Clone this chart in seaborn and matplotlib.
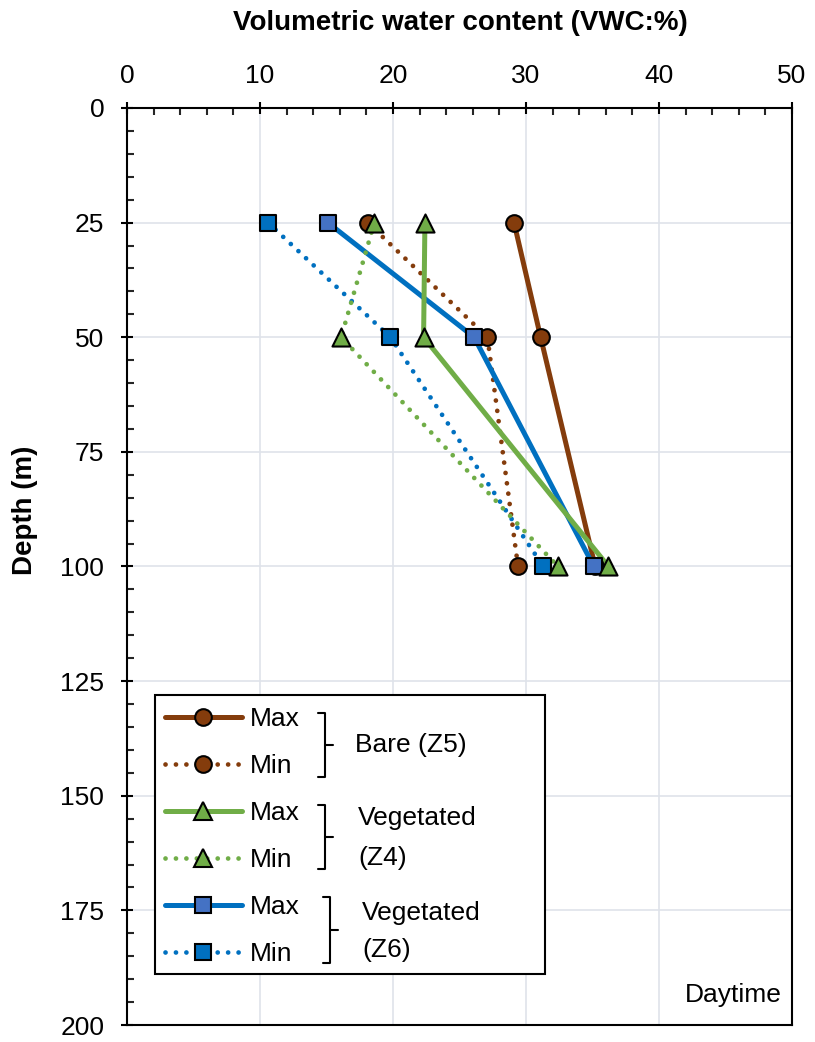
import numpy as np
import pandas as pd
import matplotlib
matplotlib.use('Agg')
import matplotlib.pyplot as plt
import seaborn as sns
from matplotlib.lines import Line2D
from matplotlib.patches import Rectangle
from matplotlib.ticker import MultipleLocator

sns.set_theme(style='white')
plt.rcParams['font.family'] = ['Liberation Sans', 'DejaVu Sans']
plt.rcParams['text.color'] = 'black'
plt.rcParams['axes.labelcolor'] = 'black'

# depth (m) and VWC (%)
depth = [25, 50, 100]
bare_max = [29.1, 31.1, 35.2]
bare_min = [18.1, 27.1, 29.4]
veg4_max = [22.4, 22.3, 36.2]
veg4_min = [18.6, 16.1, 32.4]
veg6_max = [15.1, 26.1, 35.1]
veg6_min = [10.6, 19.8, 31.3]

brown = '#843c0c'
green = '#70ad47'
blue = '#0070c0'
blue_sq = '#4472c4'
dotted = (0, (0.01, 2.2))

fig, ax = plt.subplots(figsize=(8.15, 10.42), dpi=100)
fig.subplots_adjust(left=0.1558, right=0.9718, bottom=0.0163, top=0.8964)


def to_ax(px, py):
    # pixel position in the figure -> axes fraction
    return (px - 127) / 665, (1025 - py) / 917


series = [
    (bare_max, brown, '-', 'o', brown, 12),
    (bare_min, brown, dotted, 'o', brown, 12),
    (veg6_max, blue, '-', 's', blue_sq, 11.5),
    (veg6_min, blue, dotted, 's', blue, 11.5),
    (veg4_max, green, '-', '^', green, 13),
    (veg4_min, green, dotted, '^', green, 13),
]

# lines first, then markers on top
for vals, col, ls, mk, fc, ms in series:
    lw = 3.6 if ls == '-' else 3.4
    sns.lineplot(x=vals, y=depth, sort=False, estimator=None, color=col,
                 linewidth=lw, linestyle=ls, dash_capstyle='round', ax=ax, zorder=2)
for vals, col, ls, mk, fc, ms in series:
    sns.scatterplot(x=vals, y=depth, marker=mk, s=ms ** 2, color=fc,
                    edgecolor='black', linewidth=1.5, ax=ax, zorder=3)

ax.set_xlim(0, 50)
ax.set_ylim(200, 0)
ax.xaxis.tick_top()
ax.xaxis.set_major_locator(MultipleLocator(10))
ax.xaxis.set_minor_locator(MultipleLocator(2))
ax.yaxis.set_major_locator(MultipleLocator(25))
ax.yaxis.set_minor_locator(MultipleLocator(5))
ax.tick_params(which='major', direction='inout', length=8.6, width=1.5,
               labelsize=19, colors='black')
ax.tick_params(which='minor', direction='in', length=5, width=1.5)
ax.tick_params(top=True, bottom=False, left=True, right=False,
               labeltop=True, labelbottom=False, which='both')
ax.tick_params(axis='x', pad=10)
ax.tick_params(axis='y', pad=12)
ax.grid(True, which='major', color='#dfe3ea', lw=1.2)
ax.set_axisbelow(True)
for sp in ax.spines.values():
    sp.set_color('black')
    sp.set_linewidth(1.5)

ax.xaxis.set_label_position('top')
ax.set_xlabel('Volumetric water content (VWC:%)', fontsize=20, fontweight='bold')
ax.xaxis.label.set_va('center')
ax.xaxis.set_label_coords(*to_ax(460, 23))
ax.set_ylabel('Depth (m)', fontsize=20, fontweight='bold')
ax.yaxis.label.set_va('center')
ax.yaxis.set_label_coords(*to_ax(25, 510))

# legend box
x0, y0 = to_ax(155, 974)
x1, y1 = to_ax(545, 695)
ax.add_patch(Rectangle((x0, y0), x1 - x0, y1 - y0, transform=ax.transAxes,
                       facecolor='white', edgecolor='black', lw=1.5, zorder=4))

handles = []
labels = []
legend_order = [series[0], series[1], series[4], series[5], series[2], series[3]]
for vals, col, ls, mk, fc, ms in legend_order:
    lw = 3.6 if ls == '-' else 3.4
    handles.append(Line2D([], [], color=col, lw=lw, linestyle=ls, dash_capstyle='round',
                          marker=mk, ms=ms, mfc=fc, mec='black', mew=1.5))
    labels.append('Max' if ls == '-' else 'Min')

leg = ax.legend(handles, labels, loc='upper left', bbox_to_anchor=to_ax(165, 707),
                frameon=False, fontsize=19, handlelength=2.9, handletextpad=0.3,
                labelspacing=0.87, borderpad=0, borderaxespad=0, numpoints=1)
leg.set_zorder(5)

# brackets and group labels
brackets = [
    (325, 318, 333, 713, 777, 'Bare (Z5)', 355, [745]),
    (325, 318, 333, 805, 869, 'Vegetated\n(Z4)', 358, [818, 858]),
    (330, 323, 338, 897, 963, 'Vegetated\n(Z6)', 362, [913, 950]),
]
for xv, xl, xr, yt, yb, txt, tx, tys in brackets:
    ym = (yt + yb) / 2
    pts = [(xl, yt), (xv, yt), (xv, yb), (xl, yb)]
    ax.plot([to_ax(p, q)[0] for p, q in pts], [to_ax(p, q)[1] for p, q in pts],
            transform=ax.transAxes, color='black', lw=1.5, zorder=6, clip_on=False)
    ax.plot([to_ax(xv, ym)[0], to_ax(xr, ym)[0]], [to_ax(xv, ym)[1]] * 2,
            transform=ax.transAxes, color='black', lw=1.5, zorder=6, clip_on=False)
    for line, ty in zip(txt.split('\n'), tys):
        ax.text(*to_ax(tx, ty), line, transform=ax.transAxes, fontsize=19,
                va='center', ha='left', zorder=6)

ax.text(*to_ax(782, 995), 'Daytime', transform=ax.transAxes, fontsize=19,
        va='center', ha='right')

plt.savefig('out.png', dpi=100)
